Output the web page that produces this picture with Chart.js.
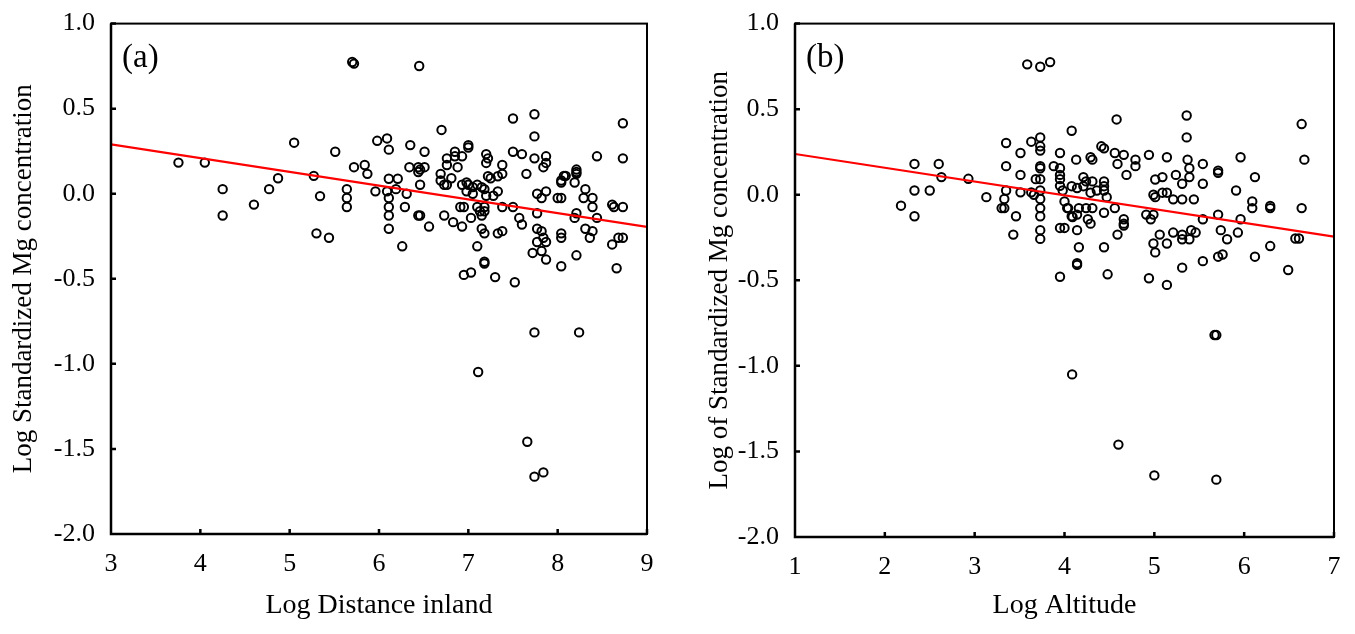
<!DOCTYPE html>
<html>
<head>
<meta charset="utf-8">
<script src="https://cdn.jsdelivr.net/npm/chart.js@4.4.0/dist/chart.umd.min.js"></script>
<style>
  body { margin: 0; background: #fff; }
  .panel { position: absolute; top: 0; }
</style>
</head>
<body>
<div class="panel" style="left:0"><canvas id="chartA" width="677" height="634"></canvas></div>
<div class="panel" style="left:677px"><canvas id="chartB" width="678" height="634"></canvas></div>
<script>
// panel (a): log distance inland
const distX = [3.755,4.05,4.25,4.25,4.60,4.77,4.87,5.05,5.27,5.30,5.34,5.44,5.51,5.64,5.64,5.64,5.70,5.72,5.72,5.84,5.87,
  5.98,6.09,6.11,6.35,6.51,6.45,6.70,5.96,6.09,6.11,6.21,6.19,6.11,6.11,6.11,6.11,6.29,6.31,6.26,6.34,6.44,6.46,6.51,6.44,6.46,
  6.44,6.46,6.56,6.69,6.69,6.73,6.76,6.81,6.76,6.76,6.85,6.85,6.93,6.88,7.0,7.0,6.73,6.83,6.93,6.91,6.95,6.93,6.98,7.0,7.05,
  6.98,7.05,7.10,7.15,7.18,7.2,7.10,7.13,7.18,7.15,7.18,7.03,7.15,7.18,7.10,7.18,7.18,6.95,7.03,7.30,7.52,7.2,7.22,7.2,7.38,
  7.22,7.25,7.33,7.38,7.28,7.33,7.38,7.33,7.38,7.50,7.50,7.60,7.65,7.50,7.57,7.60,7.74,7.74,7.74,7.87,7.87,7.84,7.77,7.87,
  7.82,7.77,7.77,7.82,7.84,7.87,7.77,7.72,7.82,7.87,8.0,8.04,8.04,8.09,8.07,8.04,8.19,8.21,8.21,8.21,8.31,8.21,8.19,8.04,
  8.04,8.21,8.04,8.29,8.39,8.39,8.44,8.31,8.39,8.36,8.44,8.61,8.63,8.73,8.61,8.68,8.73,8.66,8.73,8.73,
  7.74,8.24,7.11,7.66,7.74,7.84];
const distY = [0.183,0.183,0.027,-0.128,-0.064,0.027,0.091,0.30,0.105,-0.233,-0.014,-0.259,0.247,0.027,-0.025,-0.078,0.774,0.765,0.156,0.169,0.117,
  0.311,0.325,0.259,0.286,0.247,0.751,0.375,0.014,0.014,0.088,0.088,0.027,-0.025,-0.078,-0.128,-0.206,-0.078,0.0,-0.309,0.156,0.156,0.142,0.156,0.128,0.053,
  -0.128,-0.128,-0.193,0.117,0.078,0.053,0.053,0.091,0.208,0.169,0.247,0.220,0.220,0.156,0.286,0.272,-0.128,-0.167,-0.193,-0.078,-0.078,0.053,0.066,0.053,0.039,
  0.014,0.0,0.053,0.039,0.027,-0.012,-0.078,-0.103,-0.103,-0.128,-0.078,-0.142,-0.206,-0.233,-0.309,-0.40,-0.41,-0.477,-0.463,-0.49,-0.52,0.233,0.208,0.181,0.169,
  0.103,0.091,0.103,0.117,-0.012,0.014,-0.078,-0.233,-0.22,0.442,0.247,0.233,0.117,-0.078,-0.142,-0.181,0.467,0.337,0.208,0.22,0.181,0.156,0.0,0.014,
  -0.025,-0.115,-0.206,-0.22,-0.259,-0.284,-0.284,-0.348,-0.337,-0.387,-0.025,-0.025,0.066,0.105,0.105,0.078,0.066,0.142,0.128,0.117,0.027,-0.115,-0.142,-0.233,
  -0.259,-0.362,-0.426,-0.025,-0.025,-0.078,-0.142,-0.206,-0.22,-0.259,0.22,-0.064,-0.078,-0.078,-0.298,-0.259,-0.259,-0.438,0.414,0.208,
  -0.815,-0.815,-1.048,-1.458,-1.663,-1.638];
const distFitX = [3, 9];
const distFitY = [0.29, -0.195];
const distTicks = [3, 4, 5, 6, 7, 8, 9];

// panel (b): log altitude
const altX = [3.585,3.73,3.84,2.18,2.33,2.33,2.33,2.50,2.60,2.63,2.93,3.13,3.35,3.35,3.35,3.33,3.30,3.33,3.46,3.43,3.51,3.51,3.51,
  3.63,3.63,3.66,3.73,3.73,3.73,3.73,3.73,3.68,3.73,3.73,3.73,3.73,3.73,3.73,3.73,3.88,3.95,3.95,3.95,3.95,3.95,3.98,4.0,4.03,
  4.08,3.95,4.0,4.08,3.95,
  4.13,4.08,4.14,4.21,4.21,4.24,4.31,4.29,4.36,4.44,4.44,4.47,4.44,4.29,4.31,4.41,4.44,4.56,4.66,4.59,4.79,4.79,4.69,4.58,4.94,
  5.14,5.01,5.09,4.99,5.01,5.09,5.14,5.21,5.31,5.44,5.24,5.31,5.39,5.39,5.37,5.36,5.36,5.54,5.54,5.71,5.71,5.96,5.91,
  4.04,4.09,4.14,4.16,4.24,4.31,4.44,4.56,4.14,4.26,4.29,4.66,4.66,4.66,4.59,4.91,4.99,4.96,5.06,5.14,4.99,5.01,5.21,5.31,5.31,
  5.39,5.41,5.46,5.54,5.71,5.74,5.81,5.93,5.96,5.54,5.71,5.76,5.31,4.94,5.14,4.44,4.16,4.14,4.14,4.48,
  6.64,6.67,6.12,6.09,6.09,6.29,6.29,6.64,6.57,6.61,6.29,6.12,6.49,
  5.67,5.69,4.085,4.60,5.0,5.69];
const altY = [0.762,0.748,0.775,-0.064,0.18,0.025,-0.126,0.025,0.18,0.103,0.093,-0.014,0.302,0.167,0.025,-0.025,-0.078,-0.078,-0.126,-0.233,0.244,0.116,0.014,
  0.31,0.014,0.0,0.335,0.283,0.258,0.167,0.155,0.091,0.091,0.025,-0.025,-0.078,-0.126,-0.207,-0.258,0.167,0.244,0.155,0.116,0.091,0.052,0.025,-0.039,-0.078,
  -0.126,-0.194,-0.194,0.374,-0.479,
  0.205,0.05,0.039,0.103,0.05,0.078,0.078,0.012,0.025,0.078,0.025,-0.014,0.05,0.219,0.205,0.283,0.271,0.244,0.233,0.18,0.205,0.167,0.116,0.44,0.233,
  0.219,0.089,0.103,0.0,-0.014,0.012,0.012,-0.027,-0.027,-0.027,0.116,0.064,0.103,0.155,0.205,0.463,0.335,0.18,0.064,0.141,0.128,0.219,0.025,
  -0.078,-0.13,-0.116,-0.078,-0.078,-0.078,-0.105,-0.078,-0.207,-0.143,-0.169,-0.143,-0.169,-0.18,-0.233,-0.116,-0.116,-0.143,-0.233,-0.285,-0.285,-0.337,-0.221,-0.233,-0.26,
  -0.26,-0.207,-0.221,-0.143,-0.116,-0.207,-0.26,-0.221,-0.143,-0.388,-0.362,-0.349,-0.426,-0.488,-0.527,-0.307,-0.307,-0.40,-0.41,-0.465,
  0.413,0.205,0.103,-0.039,-0.078,-0.066,-0.078,-0.078,-0.256,-0.256,-0.3,-0.362,-0.44,
  -0.82,-0.82,-1.05,-1.46,-1.64,-1.665];
const altFitX = [1, 7];
const altFitY = [0.238, -0.245];
const altTicks = [1, 2, 3, 4, 5, 6, 7];

const yTicks = [-2.0, -1.5, -1.0, -0.5, 0.0, 0.5, 1.0];

Chart.defaults.font.family = '"Liberation Serif", "Times New Roman", serif';
Chart.defaults.font.size = 26;
Chart.defaults.color = '#000';

// box round the plot, inward tick marks and the panel letter
const frame = {
  id: 'frame',
  afterDatasetsDraw(chart, args, opts) {
    const { ctx, chartArea: a, scales: { x, y } } = chart;
    ctx.save();
    ctx.strokeStyle = '#000';
    ctx.lineWidth = 2;
    ctx.strokeRect(a.left, a.top, a.right - a.left, a.bottom - a.top);
    ctx.lineWidth = 2.5;
    ctx.beginPath();
    ctx.moveTo(a.left, a.top);
    ctx.lineTo(a.left, a.bottom);
    ctx.lineTo(a.right, a.bottom);
    x.ticks.forEach(t => {
      const px = x.getPixelForValue(t.value);
      ctx.moveTo(px, a.bottom);
      ctx.lineTo(px, a.bottom - 5);
    });
    y.ticks.forEach(t => {
      const py = y.getPixelForValue(t.value);
      ctx.moveTo(a.left, py);
      ctx.lineTo(a.left + 5, py);
    });
    ctx.stroke();
    ctx.fillStyle = '#000';
    ctx.font = '33px "Liberation Serif", serif';
    ctx.textBaseline = 'alphabetic';
    ctx.fillText(opts.label, a.left + 11, a.top + 43);
    ctx.restore();
  }
};

function toPoints(xs, ys) {
  return xs.map((v, i) => ({ x: v, y: ys[i] }));
}

function makePanel(id, o) {
  return new Chart(document.getElementById(id), {
    type: 'scatter',
    data: {
      datasets: [
        {
          type: 'line',
          data: toPoints(o.fitX, o.fitY),
          borderColor: '#ff0000',
          borderWidth: 2.2,
          pointRadius: 0,
          order: 0
        },
        {
          data: toPoints(o.xs, o.ys),
          pointStyle: 'circle',
          pointRadius: 4.2,
          pointBorderWidth: 2,
          borderColor: '#000',
          backgroundColor: 'rgba(0,0,0,0)',
          order: 1
        }
      ]
    },
    options: {
      responsive: false,
      animation: false,
      devicePixelRatio: 1,
      layout: { autoPadding: false, padding: o.padding },
      plugins: {
        legend: { display: false },
        tooltip: { enabled: false },
        frame: { label: o.label }
      },
      scales: {
        x: {
          type: 'linear',
          min: o.ticks[0],
          max: o.ticks[o.ticks.length - 1],
          afterBuildTicks: s => { s.ticks = o.ticks.map(v => ({ value: v })); },
          afterFit: s => { s.height = o.xHeight; },
          grid: { display: false },
          border: { display: false },
          ticks: { padding: 7, font: { size: 26 }, callback: v => String(v) },
          title: { display: true, text: o.xTitle, font: { size: 28 }, padding: { top: 0, bottom: 12 } }
        },
        y: {
          type: 'linear',
          min: -2,
          max: 1,
          afterBuildTicks: s => { s.ticks = yTicks.map(v => ({ value: v })); },
          afterFit: s => { s.width = o.yWidth; },
          grid: { display: false },
          border: { display: false },
          ticks: { padding: 8, font: { size: 26 }, callback: v => Number(v).toFixed(1) },
          title: { display: true, text: o.yTitle, font: { size: 27 }, padding: { top: o.yTitlePad, bottom: 0 } }
        }
      }
    },
    plugins: [frame]
  });
}

makePanel('chartA', {
  xs: distX, ys: distY, fitX: distFitX, fitY: distFitY, ticks: distTicks,
  label: '(a)', xTitle: 'Log Distance inland', yTitle: 'Log Standardized Mg concentration',
  padding: { top: 16, right: 30, bottom: 0, left: 0 }, xHeight: 100, yWidth: 111, yTitlePad: 8
});

makePanel('chartB', {
  xs: altX, ys: altY, fitX: altFitX, fitY: altFitY, ticks: altTicks,
  label: '(b)', xTitle: 'Log Altitude', yTitle: 'Log of Standardized Mg concentration',
  padding: { top: 20, right: 21, bottom: 0, left: 0 }, xHeight: 97, yWidth: 118, yTitlePad: 27
});
</script>
</body>
</html>
